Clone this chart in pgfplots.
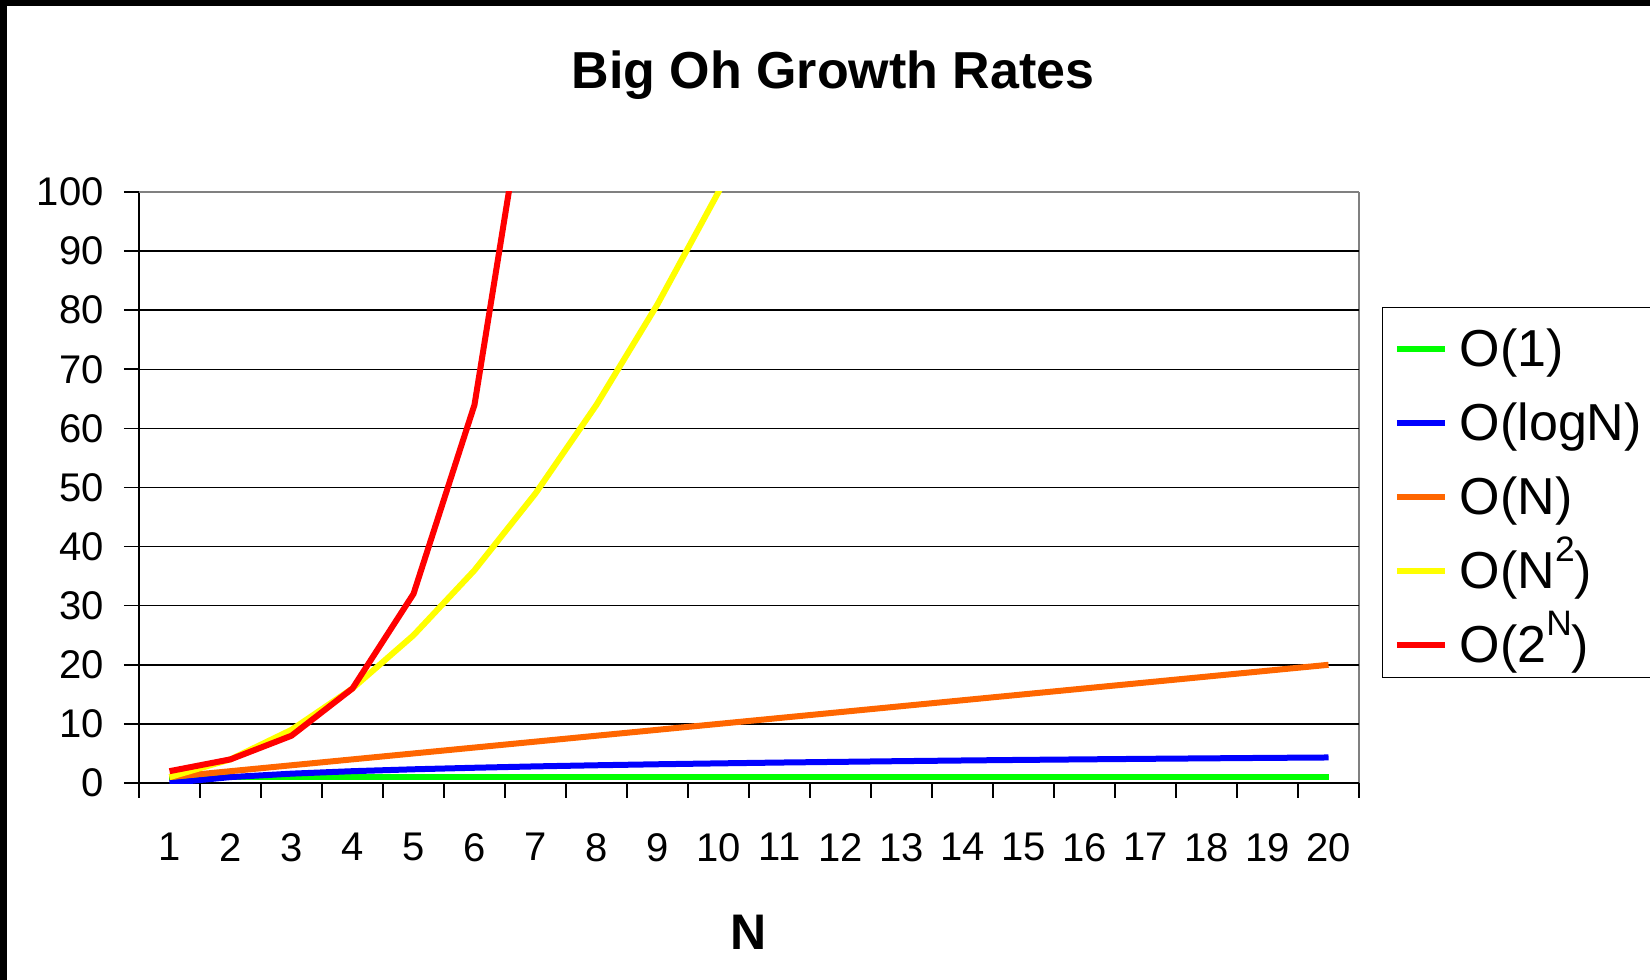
\documentclass[border=0pt]{standalone}
\usepackage{pgfplots}
\pgfplotsset{compat=1.18}
\usepackage{fontspec}
\setmainfont{Liberation Sans}
\definecolor{cgreen}{RGB}{0,255,0}
\definecolor{cblue}{RGB}{0,0,255}
\definecolor{corange}{RGB}{255,102,0}
\definecolor{cyellow}{RGB}{255,255,0}
\definecolor{cred}{RGB}{255,0,0}
\definecolor{cgray}{RGB}{128,128,128}
\newcommand{\sups}[1]{\raisebox{13.5bp}{\scalebox{0.68}{#1}}}
\begin{document}
\begin{tikzpicture}
\useasboundingbox (-69.5bp,-98.5bp) rectangle (755.5bp,391.5bp);
\fill[black] (-69.5bp,388.5bp) rectangle (755.5bp,391.5bp);
\fill[black] (-69.5bp,-98.5bp) rectangle (-66bp,391.5bp);
\begin{axis}[
  name=ax, at={(0,0)}, anchor=south west,
  scale only axis, width=610bp, height=295.5bp,
  xmin=0.5, xmax=20.5, ymin=0, ymax=100,
  axis x line*=bottom, axis y line*=left,
  axis line style={black, line width=0.8bp},
  tick align=outside,
  major tick length=7.5bp, minor tick length=7.5bp,
  tick style={black, line width=0.8bp},
  xtick={0.5,1.5,...,20.5}, xticklabels={},
  extra x ticks={1,2,...,20},
  extra x tick labels={1,2,3,4,5,6,7,8,9,10,11,12,13,14,15,16,17,18,19,20},
  extra x tick style={major tick length=0pt, tick style={draw=none}},
  minor xtick={20.5}, xminorgrids,
  minor grid style={cgray, line width=0.8bp},
  ytick={0,10,...,90},
  extra y ticks={100},
  extra y tick style={major grid style={cgray, line width=0.8bp}},
  ymajorgrids,
  major grid style={black, line width=0.7bp},
  /pgf/number format/assume math mode=true,
  ticklabel style={font=\fontsize{20bp}{24bp}\selectfont},
  yticklabel style={anchor=east, inner sep=0pt, xshift=-10bp},
  xticklabel style={anchor=north, inner sep=0pt, yshift=-25bp},
  xlabel={N},
  xlabel style={font=\fontsize{25bp}{30bp}\selectfont\bfseries, at={(axis description cs:0.5,0)}, anchor=base, yshift=-83bp, inner sep=0pt},
  title={Big Oh Growth Rates},
  title style={font=\fontsize{26bp}{31bp}\selectfont\bfseries, at={(axis description cs:0.5689,1)}, anchor=base, yshift=46bp, inner sep=0pt},
  legend style={at={(axis description cs:1.0189,0.8054)}, anchor=north west,
    draw=black, line width=0.7bp, inner xsep=5.5bp, inner ysep=6.5bp,
    font=\fontsize{26bp}{31bp}\selectfont,
    nodes={inner sep=0pt, text height=23bp, text depth=1bp},
    row sep=13bp},
  legend cell align=left,
  legend image code/.code={\draw[#1, line width=3bp] (0bp,-2bp) -- (24bp,-2bp); \path (30bp,0bp);},
  every axis plot/.append style={line width=3bp, line join=round},
]
\addplot[cgreen, mark=none] coordinates {(1,1)(2,1)(3,1)(4,1)(5,1)(6,1)(7,1)(8,1)(9,1)(10,1)(11,1)(12,1)(13,1)(14,1)(15,1)(16,1)(17,1)(18,1)(19,1)(20,1)};
\addlegendentry{O(1)}
\addplot[cblue, mark=none] coordinates {(1,0)(2,1)(3,1.58)(4,2)(5,2.32)(6,2.58)(7,2.81)(8,3)(9,3.17)(10,3.32)(11,3.46)(12,3.58)(13,3.70)(14,3.81)(15,3.91)(16,4)(17,4.09)(18,4.17)(19,4.25)(20,4.32)};
\addlegendentry{O(logN)}
\addplot[corange, mark=none] coordinates {(1,1)(2,2)(3,3)(4,4)(5,5)(6,6)(7,7)(8,8)(9,9)(10,10)(11,11)(12,12)(13,13)(14,14)(15,15)(16,16)(17,17)(18,18)(19,19)(20,20)};
\addlegendentry{O(N)}
\addplot[cyellow, mark=none] coordinates {(1,1)(2,4)(3,9)(4,16)(5,25)(6,36)(7,49)(8,64)(9,81)(10,100)(11,121)(12,144)(13,169)(14,196)(15,225)(16,256)(17,289)(18,324)(19,361)(20,400)};
\addlegendentry{O(N\sups{2})}
\addplot[cred, mark=none] coordinates {(1,2)(2,4)(3,8)(4,16)(5,32)(6,64)(7,128)(8,256)(9,512)(10,1024)(11,2048)};
\addlegendentry{O(2\sups{N})}
\end{axis}
\end{tikzpicture}
\end{document}
